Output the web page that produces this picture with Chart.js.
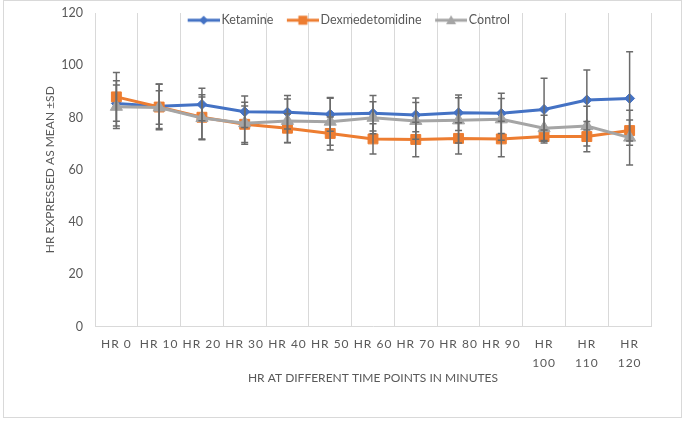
<!DOCTYPE html>
<html>
<head>
<meta charset="utf-8">
<script src="https://cdn.jsdelivr.net/npm/chart.js@4.4.1/dist/chart.umd.min.js"></script>
<style>
  body { margin: 0; background: #fff; }
  canvas { display: block; }
</style>
</head>
<body>
<canvas id="myChart" width="685" height="422"></canvas>
<script>
// time points (minutes)
var categories = ['HR 0', 'HR 10', 'HR 20', 'HR 30', 'HR 40', 'HR 50', 'HR 60',
  'HR 70', 'HR 80', 'HR 90', 'HR 100', 'HR 110', 'HR 120'];

var ketamine = [85.4, 84.3, 85.0, 82.2, 82.0, 81.2, 81.6, 81.0, 81.8, 81.6, 83.1, 86.7, 87.3];
var ketamineSD = [8.7, 8.5, 6.2, 6.0, 6.4, 6.5, 6.8, 6.5, 6.8, 7.7, 11.9, 11.5, 17.9];

var dexmed = [87.9, 84.0, 80.1, 77.4, 75.9, 73.9, 71.8, 71.6, 72.0, 71.8, 72.7, 72.7, 75.0];
var dexmedSD = [9.3, 8.7, 8.6, 7.0, 5.5, 6.3, 5.8, 6.6, 6.0, 6.8, 2.5, 5.8, 4.0];

var control = [84.1, 83.8, 79.8, 77.8, 78.7, 78.4, 79.9, 78.7, 78.9, 79.3, 75.9, 76.7, 72.3];
var controlSD = [8.3, 6.4, 8.0, 8.0, 8.4, 9.0, 6.1, 7.0, 8.7, 8.0, 5.0, 7.6, 10.5];

var yTicks = [0, 20, 40, 60, 80, 100, 120];

var BLUE = '#4472C4', ORANGE = '#ED7D31', GREY = '#A5A5A5', TEXT = '#595959';
var FONT = 'Lato, "Open Sans", sans-serif';

// legend symbol: a short line with the marker in the middle
function legendIcon(color, shape) {
  var c = document.createElement('canvas');
  c.width = 44; c.height = 16;
  var g = c.getContext('2d');
  g.strokeStyle = color; g.fillStyle = color; g.lineWidth = 3;
  g.beginPath(); g.moveTo(12, 8); g.lineTo(44, 8); g.stroke();
  g.beginPath();
  if (shape === 'diamond') {
    g.moveTo(28, 3.5); g.lineTo(32.5, 8); g.lineTo(28, 12.5); g.lineTo(23.5, 8);
  } else if (shape === 'square') {
    g.rect(23.5, 3.5, 9, 9);
  } else {
    g.moveTo(28, 3); g.lineTo(33, 12); g.lineTo(23, 12);
  }
  g.closePath(); g.fill();
  return c;
}
var icons = [legendIcon(BLUE, 'diamond'), legendIcon(ORANGE, 'square'), legendIcon(GREY, 'triangle')];

var frame = {
  id: 'frame',
  beforeDraw: function (chart) {
    var ctx = chart.ctx;
    ctx.save();
    ctx.fillStyle = '#fff';
    ctx.fillRect(0, 0, chart.width, chart.height);
    ctx.strokeStyle = '#d9d9d9';
    ctx.lineWidth = 1;
    ctx.strokeRect(3.5, 0.5, 678, 417);
    ctx.restore();
  }
};

var errorBars = {
  id: 'errorBars',
  afterDatasetsDraw: function (chart) {
    var ctx = chart.ctx, y = chart.scales.y;
    ctx.save();
    ctx.strokeStyle = '#6b6b6b';
    ctx.lineWidth = 1.5;
    chart.data.datasets.forEach(function (ds, i) {
      chart.getDatasetMeta(i).data.forEach(function (pt, j) {
        var top = y.getPixelForValue(ds.data[j] + ds.sd[j]);
        var bot = y.getPixelForValue(ds.data[j] - ds.sd[j]);
        ctx.beginPath();
        ctx.moveTo(pt.x, top); ctx.lineTo(pt.x, bot);
        ctx.moveTo(pt.x - 3.5, top); ctx.lineTo(pt.x + 3.5, top);
        ctx.moveTo(pt.x - 3.5, bot); ctx.lineTo(pt.x + 3.5, bot);
        ctx.stroke();
      });
    });
    ctx.restore();
  }
};

// legend sits over the top of the plot like in Excel:
// reserve little room for it in the layout, give its full box back for drawing
var flatLegend = {
  id: 'flatLegend',
  afterInit: function (chart) {
    var lg = chart.legend;
    var fit = lg.fit;
    lg.fit = function () {
      fit.call(this);
      this._fullHeight = this.height;
      this.height = 5;
    };
  },
  afterLayout: function (chart) {
    var lg = chart.legend;
    lg.height = lg._fullHeight;
    lg.bottom = lg.top + lg.height;
  }
};

// Excel spreads the category labels out a little
function spreadLabels(scale) {
  if (scale._spread) return;
  scale._spread = true;
  var draw = scale.drawLabels;
  scale.drawLabels = function (area) {
    var c = this.ctx;
    var old = c.letterSpacing;
    c.letterSpacing = '1px';
    draw.call(this, area);
    c.letterSpacing = old;
  };
}

var ctx = document.getElementById('myChart');
var myChart = new Chart(ctx, {
  type: 'line',
  data: {
    labels: categories,
    datasets: [{
      label: 'Ketamine',
      data: ketamine,
      sd: ketamineSD,
      borderColor: BLUE,
      backgroundColor: BLUE,
      borderWidth: 3,
      pointStyle: 'rectRot',
      pointRadius: 5,
      pointBorderWidth: 1,
      order: 3
    }, {
      label: 'Dexmedetomidine',
      data: dexmed,
      sd: dexmedSD,
      borderColor: ORANGE,
      backgroundColor: ORANGE,
      borderWidth: 3,
      pointStyle: 'rect',
      pointRadius: 7,
      pointBorderWidth: 1,
      order: 2
    }, {
      label: 'Control',
      data: control,
      sd: controlSD,
      borderColor: GREY,
      backgroundColor: GREY,
      borderWidth: 3,
      pointStyle: 'triangle',
      pointRadius: 7,
      pointBorderWidth: 1,
      order: 1
    }]
  },
  options: {
    responsive: false,
    animation: false,
    layout: {
      padding: { left: 39, right: 34, top: 8, bottom: 33 }
    },
    plugins: {
      tooltip: { enabled: false },
      legend: {
        position: 'top',
        labels: {
          usePointStyle: true,
          pointStyleWidth: 35,
          padding: 6,
          color: TEXT,
          font: { family: FONT, size: 12.5 },
          generateLabels: function (chart) {
            var items = Chart.defaults.plugins.legend.labels.generateLabels(chart);
            items.sort(function (a, b) { return a.datasetIndex - b.datasetIndex; });
            items.forEach(function (it) { it.pointStyle = icons[it.datasetIndex]; });
            return items;
          }
        }
      }
    },
    scales: {
      x: {
        offset: true,
        grid: { offset: true, color: '#d9d9d9', drawTicks: false },
        border: { color: '#d9d9d9' },
        afterFit: function (scale) {
          scale.height = 62.5;
          spreadLabels(scale);
        },
        ticks: {
          color: TEXT,
          padding: 8,
          maxRotation: 0,
          autoSkip: false,
          font: { family: FONT, size: 12, lineHeight: 1.6 },
          callback: function (value) {
            var lbl = this.getLabelForValue(value);
            var parts = lbl.split(' ');
            if (parts[1].length > 2) return parts;
            return lbl;
          }
        },
        title: {
          display: true,
          text: 'HR AT DIFFERENT TIME POINTS IN MINUTES',
          color: TEXT,
          font: { family: FONT, size: 12 },
          padding: { top: 4, bottom: 4 }
        }
      },
      y: {
        min: 0,
        max: 120,
        afterFit: function (scale) { scale.width = 56; },
        afterBuildTicks: function (scale) {
          scale.ticks = yTicks.map(function (v) { return { value: v }; });
        },
        grid: { display: false, drawTicks: false },
        border: { display: false },
        ticks: {
          color: TEXT,
          padding: 12,
          // tiny line height keeps the top label from pushing the plot down
          font: { family: FONT, size: 12.5, lineHeight: 0.1 }
        },
        title: {
          display: true,
          text: 'HR EXPRESSED AS MEAN ±SD',
          color: TEXT,
          font: { family: FONT, size: 12 },
          padding: { top: 4, bottom: 4 }
        }
      }
    }
  },
  plugins: [frame, errorBars, flatLegend]
});
</script>
</body>
</html>
